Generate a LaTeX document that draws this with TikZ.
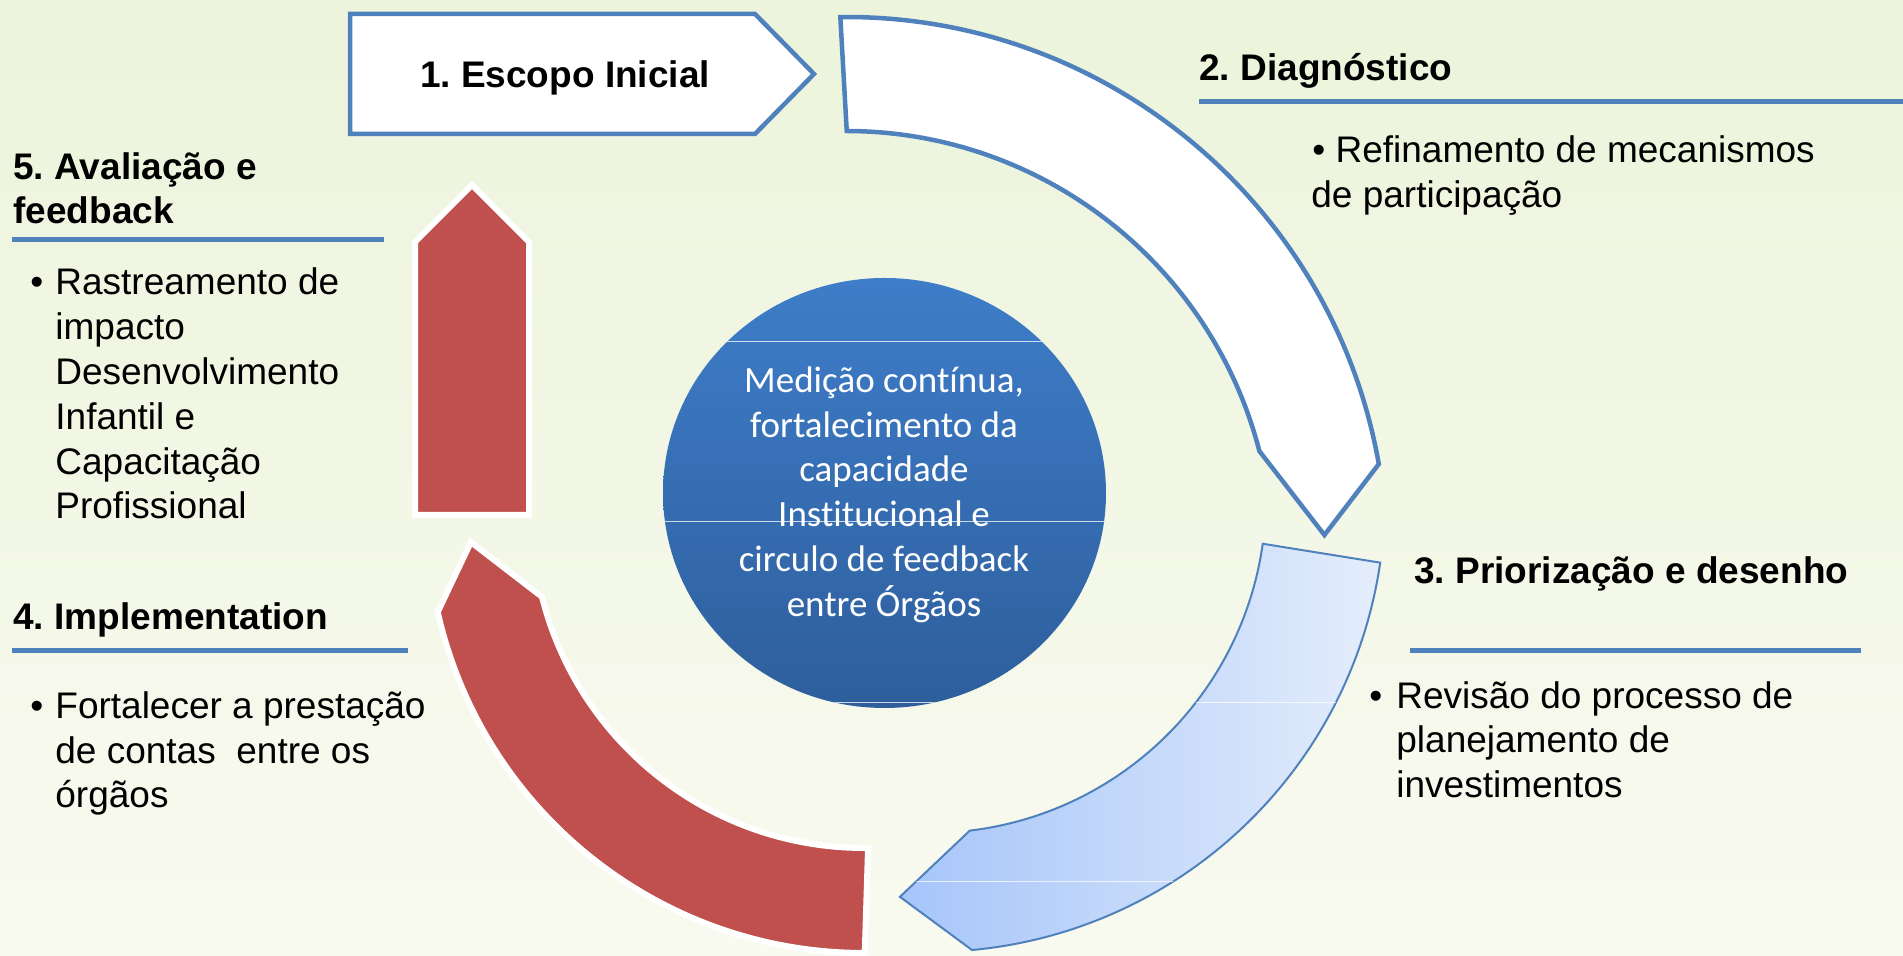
\documentclass[tikz,border=0pt]{standalone}
\usepackage{fontspec}
\setmainfont[Ligatures=NoCommon]{Liberation Sans}
\newfontfamily\calib[Ligatures=NoCommon]{Carlito}
\usetikzlibrary{shapes.geometric}
\definecolor{bgtop}{RGB}{236,244,219}
\definecolor{bgbot}{RGB}{249,250,240}
\definecolor{accblue}{RGB}{79,129,189}
\definecolor{accred}{RGB}{192,80,77}
\definecolor{ctop}{RGB}{62,125,201}
\definecolor{cbot}{RGB}{46,94,156}
\definecolor{lbleft}{RGB}{166,197,250}
\definecolor{lbright}{RGB}{228,237,251}
\newcommand\arrthreepath{(-8.0:336) -- (-8.3:455) arc[start angle=-8.3, end angle=-84.7, radius=227.5pt] -- (-94.3:401) -- (-83.2:336) arc[start angle=-83.2, end angle=-8.0, radius=168pt] -- cycle}
\frenchspacing
\begin{document}
\begin{tikzpicture}[x=0.5pt,y=0.5pt,
  txt/.style={inner sep=0pt, anchor=base west, font=\fontsize{18.5}{22.4}\selectfont},
  hdr/.style={inner sep=0pt, anchor=base west, font=\fontsize{18.5}{22.4}\selectfont\bfseries},
  ctxt/.style={inner sep=0pt, anchor=base, text=white, font=\calib\fontsize{18.5}{22.4}\selectfont},
  rule/.style={draw=accblue, line width=2.5pt},
  outlined/.style={draw=accblue, line width=2.25pt, fill=white, line join=miter},
  redarrow/.style={fill=accred, draw=white, line width=3pt, line join=miter},
  lightarrow/.style={left color=lbleft, right color=lbright, draw=accblue, line width=1pt, line join=miter},
  hub/.style={ellipse, minimum width=221.5pt, minimum height=215pt, inner sep=0pt, top color=ctop, bottom color=cbot},
  chord/.style={draw=white, draw opacity=0.75, line width=0.5pt}]
\useasboundingbox (0,0) rectangle (1903,956);
\shade[top color=bgtop, bottom color=bgbot] (0,0) rectangle (1903,956);

% central circle
\node[hub] (hub) at (884.5,463) {};
\begin{scope}
  \clip (884.5,463) ellipse [x radius=110.75pt, y radius=107.5pt];
  \draw[chord] (600,614) -- (1200,614);
  \draw[chord] (600,434) -- (1200,434);
  \draw[chord] (600,253) -- (1200,253);
\end{scope}
\node[ctxt] (c1) at (884,563) {Medição contínua,};
\node[ctxt] (c2) at (884,518) {fortalecimento da};
\node[ctxt] (c3) at (884,474) {capacidade};
\node[ctxt] (c4) at (884,429) {Institucional e};
\node[ctxt] (c5) at (884,384) {circulo de feedback};
\node[ctxt] (c6) at (884,339) {entre Órgãos};

% 1. box
\draw[outlined] (350,942) -- (755,942) -- (814,882) -- (755,822) -- (350,822) -- cycle;
\node[inner sep=0pt, anchor=base, font=\fontsize{18.5}{22.4}\selectfont\bfseries] (t1) at (565,868) {1. Escopo Inicial};

% 2. white curved arrow
\begin{scope}[shift={(846,398)}]
  \draw[outlined] (90.6:541) arc[start angle=90.6, end angle=10, radius=270.5pt] -- (2.75:479) -- (14.5:427) arc[start angle=14.5, end angle=89.9, radius=213.5pt] -- cycle;
\end{scope}

% 3. light blue curved arrow
\begin{scope}[shift={(930,459)}]
  \draw[lightarrow] \arrthreepath;
  \begin{scope}
    \clip \arrthreepath;
    \draw[chord] (-200,-206) -- (600,-206);
    \draw[chord] (-200,-385) -- (600,-385);
  \end{scope}
\end{scope}

% 4. red curved arrow
\begin{scope}[shift={(864,440)}]
  \draw[redarrow] (183.8:394) -- (192.7:437) arc[start angle=192.7, end angle=270.1, radius=218.5pt] -- (270.7:332) arc[start angle=270.7, end angle=194.1, radius=166pt] -- cycle;
\end{scope}

% 5. red straight arrow
\draw[redarrow] (415,441) -- (415,714) -- (472,771) -- (529,714) -- (529,441) -- cycle;

% 2. Diagnostico
\node[hdr] (t2) at (1199,875) {2. Diagnóstico};
\draw[rule] (1199,854) -- (1903,854);
\node[txt] (b2a) at (1312,793) {• Refinamento de mecanismos};
\node[txt] (b2b) at (1311,748) {de participação};

% 3. Priorizacao
\node[hdr] (t3) at (1414,372) {3. Priorização e desenho};
\draw[rule] (1410,305) -- (1861,305);
\node[txt] (d3) at (1369,247) {•};
\node[txt] (b3a) at (1396,247) {Revisão do processo de};
\node[txt] (b3b) at (1396,203) {planejamento de};
\node[txt] (b3c) at (1396,158) {investimentos};

% 4. Implementation
\node[hdr] (t4) at (13,326) {4. Implementation};
\draw[rule] (12,305) -- (408,305);
\node[txt] (d4) at (30,237) {•};
\node[txt] (b4a) at (55,237) {Fortalecer a prestação};
\node[txt] (b4b) at (55,192) {de contas\ \ entre os};
\node[txt] (b4c) at (55,148) {órgãos};

% 5. Avaliacao
\node[hdr] (t5a) at (13,776) {5. Avaliação e};
\node[hdr] (t5b) at (13,732) {feedback};
\draw[rule] (12,716) -- (384,716);
\node[txt] (d5) at (30,661) {•};
\node[txt] (b5a) at (55,661) {Rastreamento de};
\node[txt] (b5b) at (55,616) {impacto};
\node[txt] (b5c) at (55,571) {Desenvolvimento};
\node[txt] (b5d) at (55,526) {Infantil e};
\node[txt] (b5e) at (55,481) {Capacitação};
\node[txt] (b5f) at (55,437) {Profissional};
\end{tikzpicture}
\end{document}
